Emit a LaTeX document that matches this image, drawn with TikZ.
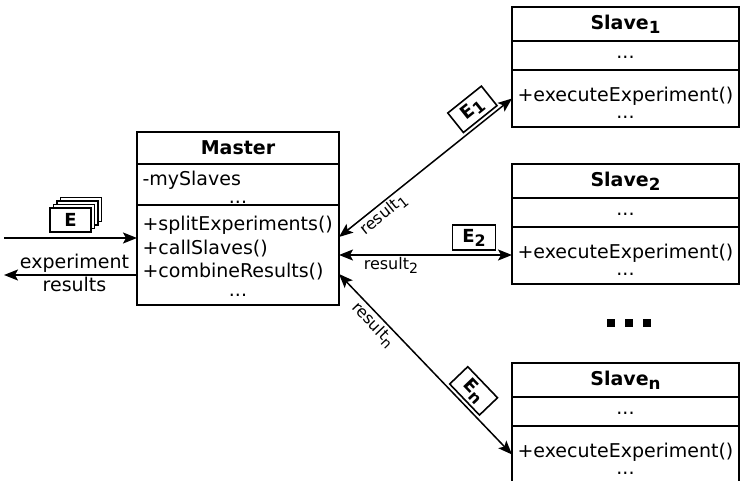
\documentclass[tikz,border=0pt]{standalone}
\usepackage{fontspec}
\setmainfont{DejaVu Sans}
\usepackage{tikz}
\usetikzlibrary{arrows.meta, positioning, calc}

\newcommand{\lowsub}[1]{\raisebox{-0.22em}{\scalebox{0.88}{#1}}}
\newcommand{\toppad}[1]{\rule{0pt}{#1}}

\tikzset{
    compart/.style={
        rectangle,
        draw=black,
        fill=white,
        line width=1.8pt,
        outer sep=0pt,
        inner xsep=5.5pt,
        inner ysep=0pt,
        font=\fontsize{19}{23.5}\selectfont
    },
    classhead/.style={
        compart,
        align=center,
        font=\fontsize{19}{23.5}\selectfont\bfseries
    },
    classbody/.style={
        compart,
        align=left
    },
    ebox/.style={
        rectangle,
        draw,
        fill=white,
        line width=1.6pt,
        minimum width=43pt,
        minimum height=25pt,
        inner sep=2pt,
        font=\fontsize{18}{18}\selectfont\bfseries
    },
    card/.style={
        rectangle,
        draw,
        fill=white,
        line width=1.6pt,
        minimum width=41pt,
        minimum height=24pt,
        inner sep=0pt,
        font=\fontsize{18}{18}\selectfont\bfseries
    },
    lbl/.style={
        inner sep=2pt,
        font=\fontsize{16}{16}\selectfont
    },
    flow/.style={
        draw,
        line width=1.5pt,
        -{Stealth[length=14pt,width=11pt,inset=3pt]}
    },
    link/.style={
        draw,
        line width=1.5pt,
        {Stealth[length=14pt,width=11pt,inset=3pt]}-{Stealth[length=14pt,width=11pt,inset=3pt]}
    },
    dotsq/.style={
        rectangle,
        fill=black,
        minimum size=8pt,
        inner sep=0pt
    }
}

\begin{document}
\begin{tikzpicture}[x=1pt, y=-1pt]

    \useasboundingbox (0,0) rectangle (741,480);

    % Master
    \node (mhead) [classhead, minimum width=202pt, minimum height=32pt, anchor=north west] at (137,132) {Master};
    \node (mattr) [classbody, text width=191pt, minimum height=41pt, below=0pt of mhead] {
        \toppad{20pt}-mySlaves\\[-6pt]\hspace*{\fill}...\hspace*{\fill}
    };
    \node (mmeth) [classbody, text width=191pt, minimum height=100pt, below=0pt of mattr] {
        \toppad{17pt}+splitExperiments()\\+callSlaves()\\+combineResults()\\[-5pt]\hspace*{\fill}...\hspace*{\fill}
    };

    % Slave 1
    \node (s1head) [classhead, minimum width=227pt, minimum height=34pt, anchor=north west] at (512,7) {Slave\lowsub{1}};
    \node (s1attr) [classbody, text width=216pt, minimum height=29pt, align=center, below=0pt of s1head] {\toppad{6pt}...};
    \node (s1meth) [classbody, text width=216pt, minimum height=57pt, below=0pt of s1attr] {
        \toppad{22pt}+executeExperiment()\\[-6.5pt]\hspace*{\fill}...\hspace*{\fill}
    };

    % Slave 2
    \node (s2head) [classhead, minimum width=227pt, minimum height=34pt, anchor=north west] at (512,164) {Slave\lowsub{2}};
    \node (s2attr) [classbody, text width=216pt, minimum height=29pt, align=center, below=0pt of s2head] {\toppad{6pt}...};
    \node (s2meth) [classbody, text width=216pt, minimum height=57pt, below=0pt of s2attr] {
        \toppad{22pt}+executeExperiment()\\[-6.5pt]\hspace*{\fill}...\hspace*{\fill}
    };

    % more slaves
    \foreach \n/\x in {a/611,b/629,c/647}
        \node (more\n) [dotsq] at (\x,323) {};

    % Slave n
    \node (snhead) [classhead, minimum width=227pt, minimum height=34pt, anchor=north west] at (512,363) {Slave\lowsub{n}};
    \node (snattr) [classbody, text width=216pt, minimum height=29pt, align=center, below=0pt of snhead] {\toppad{6pt}...};
    \node (snmeth) [classbody, text width=216pt, minimum height=57pt, below=0pt of snattr] {
        \toppad{22pt}+executeExperiment()\\[-6.5pt]\hspace*{\fill}...\hspace*{\fill}
    };

    % Experiment cards
    \foreach \k in {3,2,1}
        \node (card\k) [card] at (70.5+3.5*\k, 220-3.5*\k) {};
    \node (ecard) [card] at (70.5,220) {E};

    % Input and output
    \coordinate (src) at (4,238);
    \coordinate (dst) at (4,275);
    \draw [flow] (src) -- (src -| mmeth.west);
    \draw [flow] (dst -| mmeth.west) --
        node (outtop) [pos=0.47, above, inner sep=2pt, font=\fontsize{19}{23.5}\selectfont] {experiment}
        node (outbot) [pos=0.47, below, inner sep=1pt, font=\fontsize{19}{23.5}\selectfont] {results}
        (dst);

    % Connections
    \draw [link] ([yshift=18pt]mmeth.east) --
        node (e1) [ebox, sloped, above=3pt, pos=0.83] {E\lowsub{1}}
        node (r1) [lbl, sloped, below, pos=0.22] {result\lowsub{1}}
        (s1meth.west);
    \draw [link] (mmeth.east) --
        node (e2) [ebox, above=4pt, pos=0.78] {E\lowsub{2}}
        node (r2) [lbl, below, pos=0.3] {result\lowsub{2}}
        (mmeth.east -| s2meth.west);
    \draw [link] ([yshift=-19pt]mmeth.east) --
        node (en) [ebox, sloped, above=3pt, pos=0.71] {E\lowsub{n}}
        node (rn) [lbl, sloped, below, pos=0.24] {result\lowsub{n}}
        (snmeth.west);

\end{tikzpicture}
\end{document}
